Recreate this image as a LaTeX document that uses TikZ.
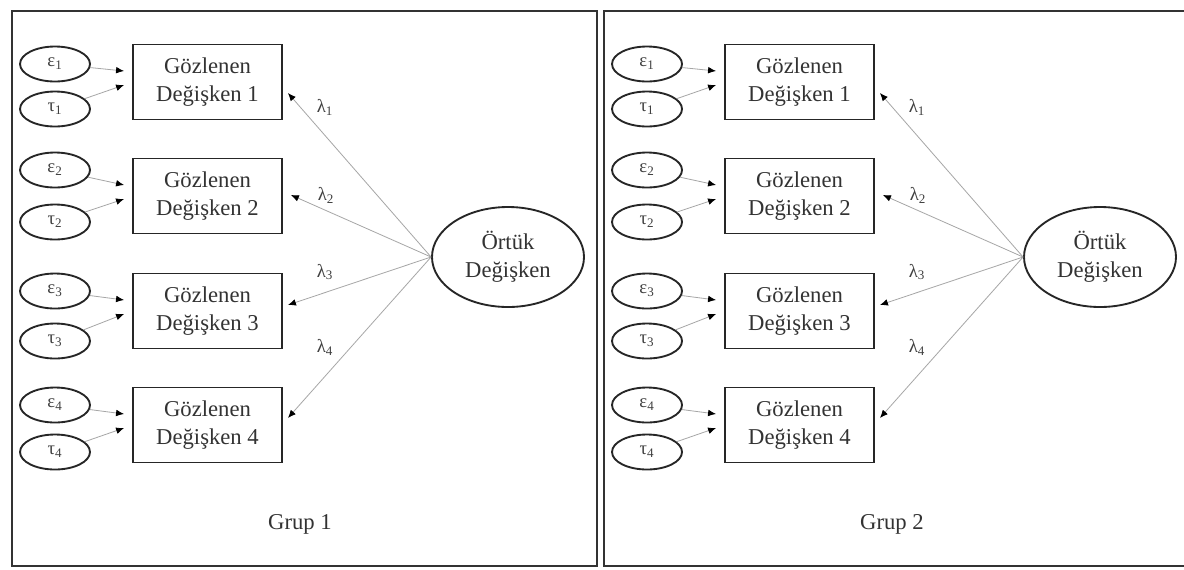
\documentclass[tikz,border=0pt]{standalone}
\usepackage{fontspec}
\setmainfont{Liberation Serif}
\usetikzlibrary{shapes.geometric,arrows.meta}
\tikzset{
  obs/.style={draw=black!85,line width=1.4pt,minimum width=111.75pt,minimum height=56.25pt,
    inner sep=0pt,align=center,font=\fontsize{17}{21}\selectfont,text=black!80},
  err/.style={ellipse,draw=black!85,line width=1.4pt,minimum width=52.5pt,minimum height=26.25pt,
    inner sep=0pt,font=\fontsize{14}{16}\selectfont,text=black!75},
  lat/.style={ellipse,draw=black!85,line width=1.4pt,minimum width=114pt,minimum height=75pt,
    inner sep=0pt,align=center,font=\fontsize{17}{21}\selectfont,text=black!80},
  link/.style={draw=black!35,line width=0.6pt,-{Latex[black,length=6pt,width=5pt]}},
  panel/.style={draw=black!80,line width=2.2pt},
  lab/.style={inner sep=0pt,font=\fontsize{14}{16}\selectfont,text=black!75},
  grp/.style={inner sep=0pt,font=\fontsize{17}{21}\selectfont,text=black!80},
}
\begin{document}
\begin{tikzpicture}[x=0.75pt,y=-0.75pt]
\useasboundingbox (0,0) rectangle (1184,569);
\fill[white] (0,0) rectangle (1184,569);
\foreach \g/\dx in {1/0,2/592}{
  % group panel
  \draw[panel] (12+\dx,11) rectangle (597+\dx,566);
  % latent variable
  \node[lat] (L\g) at (508+\dx,257) {Örtük\\Değişken};
  % indicators with their error and intercept terms
  \foreach \i/\by/\ey/\ty/\lx/\ly/\ox/\oy in
     {1/82/64/109/325/107/5/11, 2/196/170/222/326/195/8/-1,
      3/311/291/341/325/272/5/-6, 4/425/405/452/325/347/5/-7}{
    \node[obs] (B\g\i) at (207.5+\dx,\by) {Gözlenen\\Değişken \i};
    \node[err] (E\g\i) at (55+\dx,\ey) {ε\textsubscript{\i}};
    \node[err] (T\g\i) at (55+\dx,\ty) {τ\textsubscript{\i}};
    \draw[link] (E\g\i) -- ([shift={(-8,-11)}]B\g\i.west);
    \draw[link] (T\g\i) -- ([shift={(-8,3)}]B\g\i.west);
    \draw[link] (L\g.west) -- ([shift={(\ox,\oy)}]B\g\i.east);
    \node[lab] (lam\g\i) at (\lx+\dx,\ly) {λ\textsubscript{\i}};
  }
  \node[grp] (G\g) at (300+\dx,524) {Grup \g};
}
\end{tikzpicture}
\end{document}
